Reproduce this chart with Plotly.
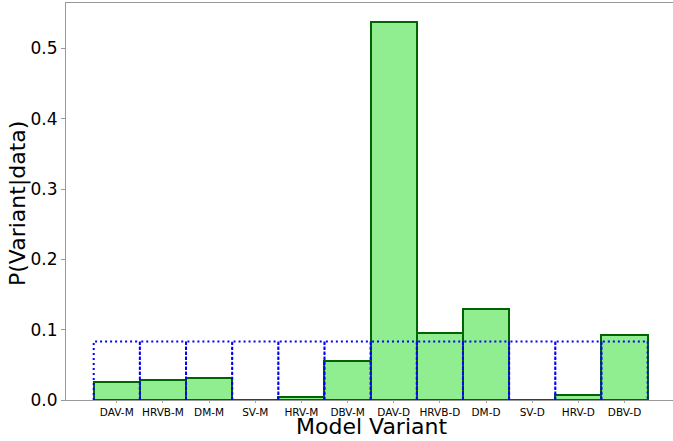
import plotly.graph_objects as go

categories = ["DAV-M", "HRVB-M", "DM-M", "SV-M", "HRV-M", "DBV-M",
              "DAV-D", "HRVB-D", "DM-D", "SV-D", "HRV-D", "DBV-D"]
posterior = [0.026, 0.028, 0.032, 0.0, 0.0047, 0.0558,
             0.538, 0.0947, 0.129, 0.0, 0.0066, 0.0928]
prior = [1 / 12] * 12
y_ticks = [0.0, 0.1, 0.2, 0.3, 0.4, 0.5]

idx = list(range(len(categories)))

fig = go.Figure()
fig.add_trace(go.Bar(
    x=idx, y=posterior, width=1.0,
    marker=dict(color="#90EE90", line=dict(color="#006400", width=2)),
    showlegend=False, hoverinfo="x+y",
))

# prior outline (unfilled dotted bars)
px, py = [], []
for i, p in zip(idx, prior):
    px += [i - 0.5, i - 0.5, i + 0.5, i + 0.5, None]
    py += [0, p, p, 0, None]
fig.add_trace(go.Scatter(
    x=px, y=py, mode="lines",
    line=dict(color="#0000FF", width=2, dash="2px,3px"),
    showlegend=False, hoverinfo="skip",
))

L, R, T, B = 66, 0, 3, 41
W, H = 673, 441
pw, ph = W - L - R, H - T - B

fig.update_layout(
    width=W, height=H,
    margin=dict(l=L, r=R, t=T, b=B, autoexpand=False),
    plot_bgcolor="white", paper_bgcolor="white",
    font=dict(family="DejaVu Sans", color="black"),
    bargap=0,
    annotations=[
        dict(text="Model Variant", xref="paper", yref="paper",
             x=(371 - L) / pw, y=-(426.5 - (T + ph)) / ph,
             xanchor="center", yanchor="middle", showarrow=False,
             font=dict(size=22)),
        dict(text="P(Variant|data)", xref="paper", yref="paper",
             x=(18 - L) / pw, y=((T + ph) - 204) / ph, textangle=-90,
             xanchor="center", yanchor="middle", showarrow=False,
             font=dict(size=22)),
    ],
)
fig.update_xaxes(
    range=[-1.1, 12.05], automargin=False,
    tickmode="array", tickvals=idx, ticktext=categories,
    tickfont=dict(size=10.5),
    ticks="outside", ticklen=2, tickcolor="#aaaaaa",
    showgrid=False, zeroline=False,
    showline=True, linecolor="#999999", linewidth=1, mirror=True,
)
fig.update_yaxes(
    range=[0, 0.5645], automargin=False,
    tickmode="array", tickvals=y_ticks, ticktext=[f"{v:.1f}" for v in y_ticks],
    tickfont=dict(size=17),
    ticks="outside", ticklen=4, tickcolor="#999999",
    showgrid=False, zeroline=False,
    showline=True, linecolor="#999999", linewidth=1,
)

fig.write_html(
    "out.html",
    config={"displayModeBar": False},
    post_script="document.body.style.margin='0';document.body.style.overflow='hidden';",
)
